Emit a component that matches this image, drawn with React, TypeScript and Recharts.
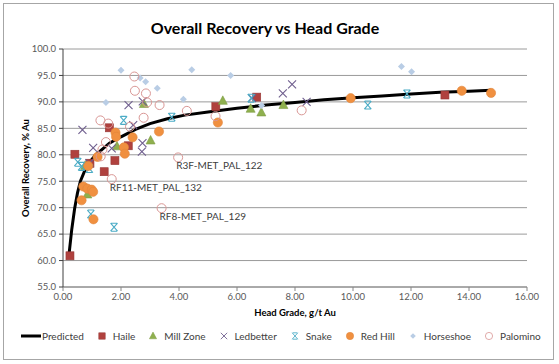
import React from 'react';
import { ScatterChart, Scatter, XAxis, YAxis, CartesianGrid } from 'recharts';

const FONT = 'Lato, "Open Sans", sans-serif';

// head grade (g/t Au) vs overall recovery (% Au)
const predicted: [number, number][] = [
  [0.2, 60.8], [0.3, 65.8], [0.4, 69.8], [0.5, 72.8], [0.6, 75.0], [0.75, 77.0],
  [0.9, 78.5], [1.1, 79.8], [1.3, 80.8], [1.6, 82.2], [2.0, 83.4], [2.5, 84.8],
  [3.0, 85.9], [3.6, 86.8], [4.2, 87.5], [5.0, 88.1], [6.0, 88.8], [7.0, 89.4],
  [8.0, 89.9], [9.0, 90.4], [10.0, 90.8], [11.0, 91.1], [12.0, 91.5], [13.0, 91.8],
  [14.0, 92.0], [14.76, 92.2],
];
const haile: [number, number][] = [
  [0.24, 60.9], [0.41, 80.1], [0.93, 78.4], [1.42, 76.8], [1.6, 85.1],
  [1.79, 78.9], [2.25, 81.7], [5.27, 89.1], [6.68, 90.9], [13.17, 91.3],
];
const millZone: [number, number][] = [
  [0.76, 77.9], [0.84, 72.5], [1.86, 81.6], [2.79, 89.6], [3.02, 82.7],
  [5.51, 90.2], [6.47, 88.7], [6.84, 88.0], [7.6, 89.4],
];
const ledbetter: [number, number][] = [
  [0.67, 84.7], [0.91, 78.4], [1.04, 81.3], [1.68, 81.2], [2.26, 89.4], [2.42, 85.6],
  [2.75, 90.1], [2.74, 82.2], [2.72, 80.6], [6.52, 90.7], [7.58, 91.6], [7.9, 93.3], [8.4, 90.0],
];
const snake: [number, number][] = [
  [0.51, 78.6], [0.64, 77.8], [0.91, 77.4], [0.96, 68.8], [1.76, 66.3],
  [2.09, 86.5], [3.75, 87.1], [6.49, 90.7], [10.51, 89.4], [11.86, 91.5],
];
const redHill: [number, number][] = [
  [0.64, 71.4], [0.7, 74.0], [0.84, 73.6], [0.99, 73.4], [1.04, 73.0], [1.05, 67.8],
  [0.87, 77.9], [1.19, 79.6], [1.81, 84.2], [1.83, 83.4], [2.1, 81.4], [2.13, 80.2],
  [2.4, 83.3], [3.31, 84.4], [5.34, 86.1], [9.92, 90.7], [13.75, 92.1], [14.76, 91.7],
];
const horseshoe: [number, number][] = [
  [1.48, 89.9], [2.0, 96.0], [2.66, 94.5], [2.85, 93.8], [3.25, 92.6], [4.15, 90.5],
  [4.44, 96.1], [5.78, 95.0], [6.85, 89.3], [11.67, 96.7], [12.02, 95.7],
];
const palomino: [number, number][] = [
  [1.29, 86.5], [1.56, 85.9], [2.31, 85.3], [1.36, 81.0], [1.48, 82.4], [1.3, 79.7],
  [1.68, 75.4], [3.4, 69.9], [3.97, 79.5], [2.46, 94.8], [2.48, 92.1], [2.86, 91.6],
  [2.9, 89.9], [3.33, 89.4], [4.27, 88.3], [2.78, 87.0], [5.26, 87.3], [8.23, 88.4],
];
const palominoLabels: Record<number, string> = {
  6: 'RF11-MET_PAL_132',
  7: 'RF8-MET_PAL_129',
  8: 'R3F-MET_PAL_122',
};

const xTicks = [0, 2, 4, 6, 8, 10, 12, 14, 16];
const yTicks = [55, 60, 65, 70, 75, 80, 85, 90, 95, 100];

const toPoints = (pts: [number, number][], labels: Record<number, string> = {}) =>
  pts.map(([x, y], i) => ({ x, y, label: labels[i] }));

const Square = ({ cx, cy }: any) => (
  <rect x={cx - 4} y={cy - 4} width={8} height={8} fill="#B0413E" stroke="#963634" strokeWidth={0.6} />
);
const Triangle = ({ cx, cy }: any) => (
  <polygon
    points={`${cx},${cy - 5} ${cx + 4.5},${cy + 3.5} ${cx - 4.5},${cy + 3.5}`}
    fill="#8FB04E"
    stroke="#7E9C44"
    strokeWidth={0.6}
  />
);
const Cross = ({ cx, cy }: any) => (
  <path
    d={`M${cx - 4},${cy - 4}L${cx + 4},${cy + 4}M${cx + 4},${cy - 4}L${cx - 4},${cy + 4}`}
    stroke="#6F5E8E"
    strokeWidth={1.1}
    fill="none"
  />
);
const Star = ({ cx, cy }: any) => (
  <path
    d={`M${cx - 3.5},${cy - 4}L${cx + 3.5},${cy + 4}M${cx + 3.5},${cy - 4}L${cx - 3.5},${cy + 4}M${cx - 3},${cy - 4}H${cx + 3}M${cx - 3},${cy + 4}H${cx + 3}`}
    stroke="#4BACC6"
    strokeWidth={1.1}
    fill="none"
  />
);
const Dot = ({ cx, cy }: any) => (
  <circle cx={cx} cy={cy} r={4.6} fill="#F09040" stroke="#E0843A" strokeWidth={0.6} />
);
const Diamond = ({ cx, cy }: any) => (
  <polygon
    points={`${cx},${cy - 3.5} ${cx + 3.5},${cy} ${cx},${cy + 3.5} ${cx - 3.5},${cy}`}
    fill="#B9CDE5"
  />
);
const Ring = ({ cx, cy, payload }: any) => (
  <g>
    <circle cx={cx} cy={cy} r={4.5} fill="none" stroke="#D99694" strokeWidth={1} />
    {payload && payload.label ? (
      <text x={cx - 2} y={cy + 12} fontSize={10} fill="#404040" fontFamily={FONT}>
        {payload.label}
      </text>
    ) : null}
  </g>
);

const legendItems = [
  { name: 'Predicted', icon: 'line' },
  { name: 'Haile', icon: Square },
  { name: 'Mill Zone', icon: Triangle },
  { name: 'Ledbetter', icon: Cross },
  { name: 'Snake', icon: Star },
  { name: 'Red Hill', icon: Dot },
  { name: 'Horseshoe', icon: Diamond },
  { name: 'Palomino', icon: Ring },
];

function ChartLegend() {
  return (
    <div
      style={{
        position: 'absolute',
        left: 21,
        top: 330,
        display: 'flex',
        alignItems: 'center',
        gap: 13,
        fontFamily: FONT,
        fontSize: 10,
        color: '#404040',
        whiteSpace: 'nowrap',
      }}
    >
      {legendItems.map((item) => {
        const Icon = item.icon as any;
        return (
          <div key={item.name} style={{ display: 'flex', alignItems: 'center', gap: item.icon === 'line' ? 1 : 6 }}>
            {item.icon === 'line' ? (
              <svg width={20} height={12}>
                <line x1={0} y1={6} x2={20} y2={6} stroke="#000" strokeWidth={3} />
              </svg>
            ) : (
              <svg width={10} height={12}>
                <g transform="translate(5,6) scale(0.8) translate(-5,-6)">
                  <Icon cx={5} cy={6} />
                </g>
              </svg>
            )}
            <span>{item.name}</span>
          </div>
        );
      })}
    </div>
  );
}

export default function App() {
  const tickStyle = { fontSize: 9.5, fill: '#595959', fontFamily: FONT };
  return (
    <div style={{ position: 'absolute', left: 0, top: 0, width: 559, height: 364, background: '#fff' }}>
      <div
        style={{
          position: 'absolute',
          left: 3,
          top: 3,
          width: 549,
          height: 355,
          border: '1px solid #a6a6a6',
        }}
      />
      <div
        style={{
          position: 'absolute',
          left: 0,
          width: 530,
          top: 18,
          textAlign: 'center',
          fontFamily: FONT,
          fontWeight: 700,
          fontSize: 16,
          color: '#000',
        }}
      >
        Overall Recovery vs Head Grade
      </div>
      <div style={{ position: 'absolute', left: 0, top: 0 }}>
        <ScatterChart width={559} height={364} margin={{ top: 49, right: 32, bottom: 57, left: 13 }}>
          <CartesianGrid horizontal vertical={false} stroke="#9a9a9a" />
          <XAxis
            type="number"
            dataKey="x"
            domain={[0, 16]}
            ticks={xTicks}
            tickFormatter={(v: number) => v.toFixed(2)}
            tick={tickStyle}
            height={20}
            tickSize={4}
            tickMargin={2}
            stroke="#868686"
            allowDataOverflow
          />
          <YAxis
            type="number"
            dataKey="y"
            domain={[55, 100]}
            ticks={yTicks}
            tickFormatter={(v: number) => v.toFixed(1)}
            tick={tickStyle}
            width={50}
            tickSize={4}
            tickMargin={3}
            stroke="#404040"
            allowDataOverflow
          />
          <Scatter
            name="Predicted"
            data={toPoints(predicted)}
            line={{ stroke: '#000', strokeWidth: 3 }}
            lineType="joint"
            shape={() => <g />}
            isAnimationActive={false}
          />
          <Scatter name="Haile" data={toPoints(haile)} shape={Square} isAnimationActive={false} />
          <Scatter name="Mill Zone" data={toPoints(millZone)} shape={Triangle} isAnimationActive={false} />
          <Scatter name="Ledbetter" data={toPoints(ledbetter)} shape={Cross} isAnimationActive={false} />
          <Scatter name="Snake" data={toPoints(snake)} shape={Star} isAnimationActive={false} />
          <Scatter name="Red Hill" data={toPoints(redHill)} shape={Dot} isAnimationActive={false} />
          <Scatter name="Horseshoe" data={toPoints(horseshoe)} shape={Diamond} isAnimationActive={false} />
          <Scatter
            name="Palomino"
            data={toPoints(palomino, palominoLabels)}
            shape={Ring}
            isAnimationActive={false}
          />
        </ScatterChart>
      </div>
      <div
        style={{
          position: 'absolute',
          left: 295,
          top: 307,
          transform: 'translateX(-50%)',
          fontFamily: FONT,
          fontWeight: 700,
          fontSize: 9.5,
          color: '#000',
          whiteSpace: 'nowrap',
        }}
      >
        Head Grade, g/t Au
      </div>
      <div
        style={{
          position: 'absolute',
          left: 25,
          top: 168,
          transform: 'translate(-50%, -50%) rotate(-90deg)',
          fontFamily: FONT,
          fontWeight: 700,
          fontSize: 9.5,
          color: '#000',
          whiteSpace: 'nowrap',
        }}
      >
        Overall Recovery, % Au
      </div>
      <ChartLegend />
    </div>
  );
}
